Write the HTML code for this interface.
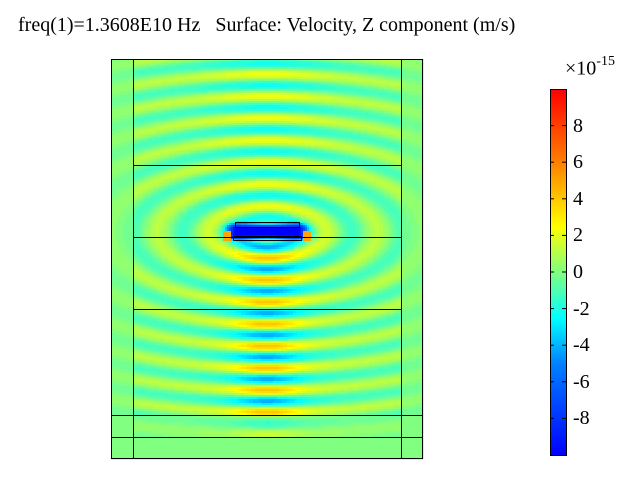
<!DOCTYPE html>
<html><head><meta charset="utf-8"><style>
body{margin:0;width:640px;height:480px;background:#fff;overflow:hidden;font-family:"Liberation Serif",serif;position:relative;}
#title{position:absolute;left:18px;top:14px;font-size:20px;white-space:nowrap;}
.tick{position:absolute;font-size:20px;left:573px;}
</style></head><body>
<div id="title">freq(1)=1.3608E10 Hz&nbsp;&nbsp; Surface: Velocity, Z component (m/s)</div>
<svg width="640" height="480" style="position:absolute;left:0;top:0" id="ovsvg">
<defs><linearGradient id="jetg" x1="0" y1="1" x2="0" y2="0">
<stop offset="0" stop-color="#0000ff"/><stop offset="0.25" stop-color="#0080ff"/><stop offset="0.375" stop-color="#00ffff"/>
<stop offset="0.5" stop-color="#80ff80"/><stop offset="0.625" stop-color="#ffff00"/>
<stop offset="0.8" stop-color="#ff8000"/><stop offset="1" stop-color="#ff0000"/></linearGradient></defs>
<g id="field"></g><g id="geom"></g>
</svg>
<div style="position:absolute;left:565px;top:56px;font-size:20px">×10<sup style="font-size:14px;position:relative;top:-2px">-15</sup></div>
<script>
var tickValues=[8,6,4,2,0,-2,-4,-6,-8];
var cbMin=-10, cbMax=10;
var hLines=[165,237,309,415,437];
var vLines=[133,401];
var NS='http://www.w3.org/2000/svg';
var stops=[[0,0,0,255],[0.25,0,128,255],[0.375,0,255,255],[0.5,128,255,128],[0.625,255,255,0],[0.8,255,128,0],[1,255,0,0]];
function clamp(a){return Math.max(0,Math.min(1,a));}
function jet(t){t=clamp(t);
 for(var i=1;i<stops.length;i++){if(t<=stops[i][0]){var a=stops[i-1],b=stops[i],f=(t-a[0])/(b[0]-a[0]);
  return 'rgb('+Math.round(a[1]+(b[1]-a[1])*f)+','+Math.round(a[2]+(b[2]-a[2])*f)+','+Math.round(a[3]+(b[3]-a[3])*f)+')';}}
 return 'rgb(255,0,0)';}
var X0=111,Y0=59,X1=423,Y1=459,CX=267,CY=232,S=2;
function sq(a){return a*a;}
function fieldVal(x,y){
 var dx=x-CX,dy=y-CY;
 var rad=Math.sqrt(sq(dx/2.3)+dy*dy);
 var amp=1.1+1.1*Math.exp(-sq(dx/60));
 if(dy>0)amp+=2.0*Math.exp(-sq(dx/30));
 var v=amp*Math.cos(2*Math.PI*(rad-4)/22);
 if(x<133||x>401)v*=0.3;
 if(y>415)v*=0.35;
 if(y>437)v=0;
 if(Math.abs(dy)<16&&Math.abs(dx)<60){
  var w=Math.exp(-sq(Math.max(0,Math.abs(dx)-30)/10))*Math.exp(-sq(Math.max(0,Math.abs(dy+0.5)-3.5)/4));
  v=v*(1-w)-10*w;}
 if(Math.abs(Math.abs(dx)-40)<4&&Math.abs(dy-4)<5)v=5;
 return v;}
var field=document.getElementById('field');
for(var y=Y0;y<Y1;y+=S){
 var runStart=X0,runQ=null;
 for(var x=X0;x<=X1;x+=S){
  var q=null;
  if(x<X1){q=Math.round((fieldVal(x+S/2,y+S/2)-cbMin)/(cbMax-cbMin)*64);}
  if(q!==runQ){
   if(runQ!==null){
    var r=document.createElementNS(NS,'rect');
    r.setAttribute('x',runStart);r.setAttribute('y',y);
    r.setAttribute('width',x-runStart+0.5);r.setAttribute('height',S+0.5);
    r.setAttribute('fill',jet(runQ/64));
    field.appendChild(r);}
   runStart=x;runQ=q;}
 }}
var geom=document.getElementById('geom');
function el(t,a,n){var e=document.createElementNS(NS,t);for(var k in a)e.setAttribute(k,a[k]);
 
 
 geom.appendChild(e);return e;}
var cbT=89,cbB=455;
el('rect',{x:550.5,y:89.5,width:16,height:366,fill:'url(#jetg)',stroke:'#000'},'colorbar');
el('rect',{x:111.5,y:59.5,width:311,height:399,fill:'none',stroke:'#000'},'plot-border');
for(var i=0;i<vLines.length;i++)el('line',{x1:vLines[i]+.5,x2:vLines[i]+.5,y1:59,y2:459,stroke:'#000'},'domain-boundary');
for(var i=0;i<hLines.length;i++){var hy=hLines[i];el('line',{x1:(hy>400?111:133),x2:(hy>400?423:401),y1:hy+.5,y2:hy+.5,stroke:'#000'},'domain-boundary');}
el('rect',{x:235.5,y:222.5,width:64,height:5,fill:'none',stroke:'#000'},'device-top-electrode');
el('rect',{x:233.5,y:236.5,width:68,height:4,fill:'none',stroke:'#000'},'device-bottom-electrode');
function toY(v){return cbB-(v-cbMin)/(cbMax-cbMin)*(cbB-cbT);}
for(var i=0;i<tickValues.length;i++){var tv=tickValues[i],ty=toY(tv);
 el('line',{x1:550,x2:554,y1:ty,y2:ty,stroke:'#000'},'colorbar-tick');
 el('line',{x1:562,x2:566,y1:ty,y2:ty,stroke:'#000'},'colorbar-tick');
 var d=document.createElement('div');d.className='tick';d.style.top=(ty-11)+'px';d.textContent=tv;
 
 
 document.body.appendChild(d);}
</script>
</body></html>
